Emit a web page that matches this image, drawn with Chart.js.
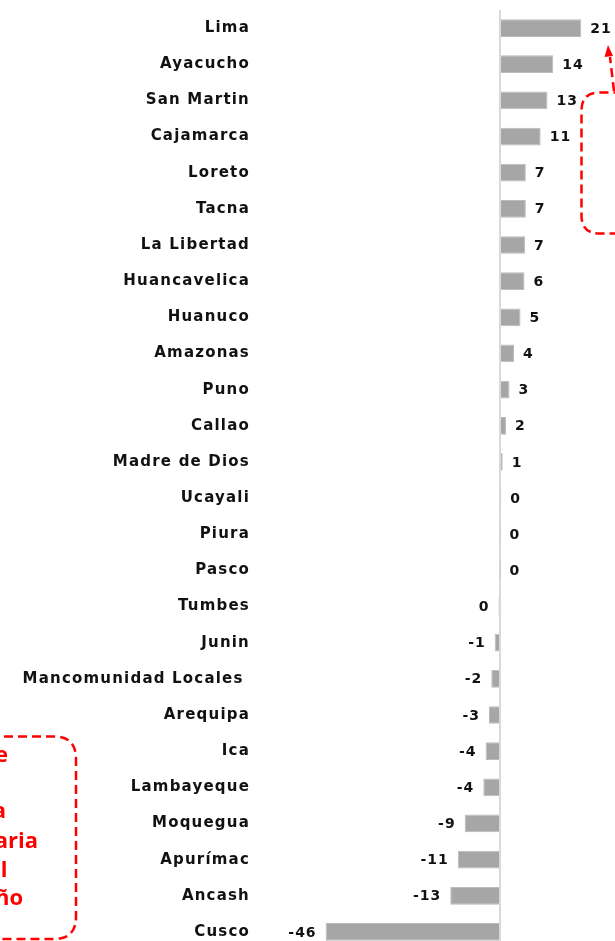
<!DOCTYPE html>
<html><head><meta charset="utf-8">
<script src="https://cdn.jsdelivr.net/npm/chart.js@4.4.0/dist/chart.umd.min.js"></script>
<style>
html,body{margin:0;padding:0;background:#fff;overflow:hidden;}
#c{display:block;}
</style></head>
<body><canvas id="c" width="615" height="960" style="width:615px;height:960px"></canvas>
<script>
const categories = ["Lima","Ayacucho","San Martin","Cajamarca","Loreto","Tacna","La Libertad","Huancavelica","Huanuco","Amazonas","Puno","Callao","Madre de Dios","Ucayali","Piura","Pasco","Tumbes","Junin","Mancomunidad Locales ","Arequipa","Ica","Lambayeque","Moquegua","Apurímac","Ancash","Cusco"];
const values = [21.4,14.0,12.5,10.7,6.8,6.8,6.6,6.45,5.4,3.7,2.5,1.6,0.7,0.35,0.15,0.1,-0.4,-1.4,-2.3,-2.9,-3.8,-4.4,-9.3,-11.1,-13.1,-45.9];
const valueLabels = values.map(v => String(Math.round(v)));
const leftNoteLines = ["e","","a","aria","el","ño"];

const spacingPlugin = {
  id:'spacing',
  beforeDraw(chart){ try{ chart.ctx.letterSpacing='1.2px'; }catch(e){} }
};

const valueLabelPlugin = {
  id:'valueLabels',
  afterDatasetsDraw(chart){
    const ctx=chart.ctx, meta=chart.getDatasetMeta(0);
    ctx.save();
    ctx.font='bold 14px "DejaVu Sans"';
    ctx.fillStyle='#111';
    ctx.textBaseline='middle';
    try{ ctx.letterSpacing='1px'; }catch(e){}
    meta.data.forEach((bar,i)=>{
      const neg = values[i] < 0;
      ctx.textAlign = neg ? 'right' : 'left';
      ctx.fillText(valueLabels[i], neg ? bar.x-9 : bar.x+9, bar.y+1);
    });
    ctx.restore();
  }
};

function rrect(ctx,x,y,w,h,r){
  ctx.beginPath();
  ctx.moveTo(x+r,y); ctx.lineTo(x+w-r,y); ctx.quadraticCurveTo(x+w,y,x+w,y+r);
  ctx.lineTo(x+w,y+h-r); ctx.quadraticCurveTo(x+w,y+h,x+w-r,y+h);
  ctx.lineTo(x+r,y+h); ctx.quadraticCurveTo(x,y+h,x,y+h-r);
  ctx.lineTo(x,y+r); ctx.quadraticCurveTo(x,y,x+r,y); ctx.closePath();
}

const notesPlugin = {
  id:'notes',
  afterDraw(chart){
    const ctx=chart.ctx;
    ctx.save();
    try{ ctx.letterSpacing='0px'; }catch(e){}
    ctx.strokeStyle='#ff0000'; ctx.fillStyle='#ff0000';
    ctx.lineWidth=2.5; ctx.setLineDash([9,5]);
    rrect(ctx,581.5,92.5,90,141,18); ctx.stroke();
    ctx.beginPath(); ctx.moveTo(614,91); ctx.lineTo(610,57); ctx.stroke();
    ctx.setLineDash([]);
    ctx.beginPath(); ctx.moveTo(608,45); ctx.lineTo(604.5,57); ctx.lineTo(613,56); ctx.closePath(); ctx.fill();
    ctx.setLineDash([9,5]);
    rrect(ctx,-60,736.5,136,202.5,22); ctx.stroke();
    ctx.setLineDash([]);
    ctx.font='bold 22px "Open Sans"';
    ctx.textAlign='right'; ctx.textBaseline='alphabetic';
    const ends=[8,0,6,38,7.5,23], bases=[762,790,818,848,877,905];
    leftNoteLines.forEach((t,i)=>{ if(t) ctx.fillText(t, ends[i], bases[i]); });
    ctx.restore();
  }
};

new Chart(document.getElementById('c'), {
  type:'bar',
  data:{ labels:categories, datasets:[{ data:values, backgroundColor:'#a6a6a6', borderColor:'#bcbcbc', borderWidth:1, barPercentage:0.49, categoryPercentage:1 }]},
  options:{
    indexAxis:'y', responsive:false, maintainAspectRatio:false, animation:false, devicePixelRatio:1,
    layout:{ padding:{top:10,bottom:10,left:0,right:1} },
    plugins:{ legend:{display:false}, tooltip:{enabled:false} },
    scales:{
      x:{ min:-65.8, max:30, ticks:{display:false, stepSize:10}, border:{display:false},
          grid:{ drawTicks:false, lineWidth:2, color:c=> (c.tick && c.tick.value===0) ? '#d9d9d9' : 'rgba(0,0,0,0)' },
          afterFit(s){ s.height=0; } },
      y:{ grid:{display:false, drawTicks:false}, border:{display:false},
          ticks:{ padding:0, color:'#111', font:{family:'"DejaVu Sans"', size:15, weight:'bold'}, autoSkip:false },
          afterFit(s){ s.width=250; } }
    }
  },
  plugins:[spacingPlugin, valueLabelPlugin, notesPlugin]
});
</script>
</body></html>
